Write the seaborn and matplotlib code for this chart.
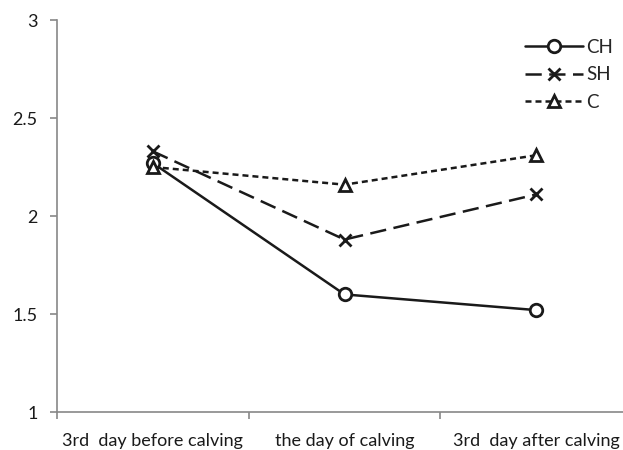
import pandas as pd
import seaborn as sns
import matplotlib
matplotlib.use("Agg")
import matplotlib.pyplot as plt
from matplotlib.ticker import FixedLocator

days = ["3rd  day before calving", "the day of calving", "3rd  day after calving"]
groups = ["CH", "SH", "C"]
ch_values = [2.27, 1.60, 1.52]
sh_values = [2.33, 1.88, 2.11]
c_values = [2.25, 2.16, 2.31]

df = pd.DataFrame({
    "day": days * 3,
    "group": ["CH"] * 3 + ["SH"] * 3 + ["C"] * 3,
    "value": ch_values + sh_values + c_values,
})

sns.set_theme(style="white")
plt.rcParams["font.family"] = ["Lato", "DejaVu Sans"]

fig = plt.figure(figsize=(6.23, 4.5), dpi=100)
ax = fig.add_axes([0.0915, 0.0844, 0.923, 0.8711])

markers = {"CH": "o", "SH": "x", "C": "^"}
dashes = {"CH": "-", "SH": (0, (6.5, 3)), "C": (0, (2.4, 1.6))}
for g in groups:
    sns.lineplot(data=df[df["group"] == g], x="day", y="value", label=g,
                 marker=markers[g], linestyle=dashes[g],
                 color="#1a1a1a", linewidth=1.8, markersize=9,
                 markerfacecolor="white", markeredgecolor="#1a1a1a",
                 markeredgewidth=2.0, ax=ax, sort=False)

ax.set_xlim(-0.5, 2.5)
ax.set_ylim(1, 3)
ax.set_yticks([1, 1.5, 2, 2.5, 3])
ax.set_yticklabels(["1", "1.5", "2", "2.5", "3"])
ax.set_xlabel("")
ax.set_ylabel("")

# category boundaries get the ticks, labels sit between them
ax.xaxis.set_minor_locator(FixedLocator([-0.5, 0.5, 1.5, 2.5]))
ax.tick_params(axis="x", which="major", length=0, pad=15, labelsize=13, colors="#1a1a1a")
ax.tick_params(axis="x", which="minor", length=5, width=1.2, color="#888888", bottom=True)
ax.tick_params(axis="y", length=5, width=1.2, color="#888888", left=True, labelsize=13,
               labelcolor="#1a1a1a", pad=9)

for s in ["top", "right"]:
    ax.spines[s].set_visible(False)
for s in ["left", "bottom"]:
    ax.spines[s].set_color("#888888")
    ax.spines[s].set_linewidth(1.2)

leg = ax.legend(loc="upper right", bbox_to_anchor=(0.99, 0.985), frameon=False,
                handlelength=3.1, fontsize=13.5, labelspacing=0.55, handletextpad=0.15,
                borderpad=0.2)
for h in leg.legend_handles:
    h.set_markerfacecolor("white")

fig.savefig("out.png", dpi=100)
